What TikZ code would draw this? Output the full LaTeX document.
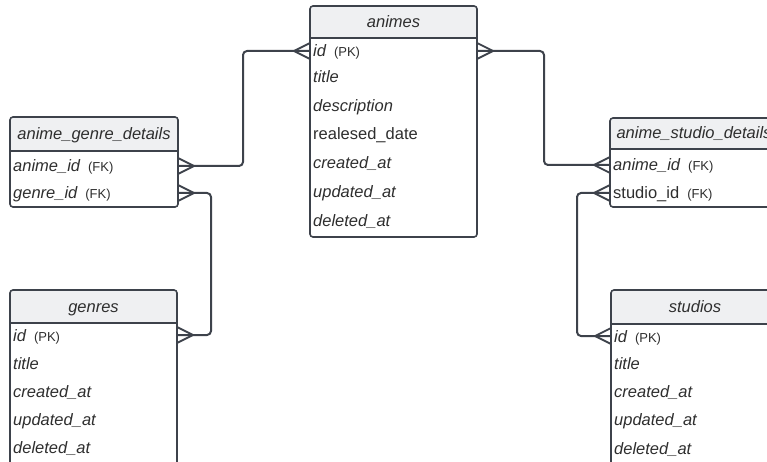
\documentclass[tikz,border=0pt]{standalone}
\usepackage{fontspec}
\setmainfont{Liberation Sans}
\definecolor{ln}{HTML}{3D424B}
\definecolor{hd}{HTML}{EFF0F2}
\definecolor{tx}{HTML}{2E2E2E}
\newcommand\keyt[1]{\hspace{8pt}{\fontsize{13}{13}\selectfont\upshape #1}}
\begin{document}
\begin{tikzpicture}[x=1pt,y=-1pt,
 tbl/.style={draw=ln, line width=1.6pt, rounded corners=3pt, anchor=north west,
   inner sep=0pt, outer sep=0pt,
   path picture={\fill[hd] (path picture bounding box.north west) rectangle ([yshift=-#1]path picture bounding box.north east);
     \draw[ln, line width=1.6pt] ([yshift=-#1]path picture bounding box.north west) -- ([yshift=-#1]path picture bounding box.north east);}},
 hdr/.style={font=\fontsize{16.5}{16.5}\selectfont\itshape, text=tx, inner sep=0pt, text height=11pt, text depth=0pt},
 fld/.style={font=\fontsize{16.5}{16.5}\selectfont\itshape, text=tx, anchor=west, inner sep=0pt, text height=12pt, text depth=0pt},
 fldup/.style={fld, font=\fontsize{16.5}{16.5}\selectfont\upshape},
 conn/.style={draw=ln, line width=2pt, rounded corners=4pt},
 crowline/.style={draw=ln, line width=1.8pt},
 crow/.pic={\draw[crowline] (0,-8) -- (16,0) -- (0,8) (0,0) -- (16,0);},
]
\useasboundingbox (0,0) rectangle (767,462);
\clip (0,0) rectangle (767,462);

% animes
\node[tbl=32pt, minimum width=167pt, minimum height=231pt] (animes) at (310,6) {};
\node[hdr] (animes-h) at (393.5,22) {animes};
\node[fld] (an-id) at (313,51) {id\keyt{(PK)}};
\node[fld] (an-title) at (313,77) {title};
\node[fld] (an-desc) at (313,106) {description};
\node[fldup] (an-rel) at (313,134) {realesed\_date};
\node[fld] (an-cr) at (313,163) {created\_at};
\node[fld] (an-up) at (313,192) {updated\_at};
\node[fld] (an-del) at (313,220) {deleted\_at};

% anime_genre_details
\node[tbl=34pt, minimum width=168pt, minimum height=90pt] (ag) at (10,117) {};
\node[hdr] (ag-h) at (94,134) {anime\_genre\_details};
\node[fld] (ag-anime) at (13,166) {anime\_id\keyt{(FK)}};
\node[fld] (ag-genre) at (13,193) {genre\_id\keyt{(FK)}};

% genres
\node[tbl=33pt, minimum width=167pt, minimum height=190pt] (genres) at (10,290) {};
\node[hdr] (ge-h) at (93.5,306.5) {genres};
\node[fld] (ge-id) at (13,335) {id\keyt{(PK)}};
\node[fld] (ge-title) at (13,363) {title};
\node[fld] (ge-cr) at (13,391) {created\_at};
\node[fld] (ge-up) at (13,419) {updated\_at};
\node[fld] (ge-del) at (13,447) {deleted\_at};

% anime_studio_details
\node[tbl=31pt, minimum width=168pt, minimum height=89pt] (as) at (610,118) {};
\node[hdr] (as-h) at (694,133.5) {anime\_studio\_details};
\node[fld] (as-anime) at (613,165) {anime\_id\keyt{(FK)}};
\node[fldup] (as-studio) at (613,193) {studio\_id\keyt{(FK)}};

% studios
\node[tbl=34pt, minimum width=168pt, minimum height=190pt] (studios) at (611,290) {};
\node[hdr] (st-h) at (695,307) {studios};
\node[fld] (st-id) at (614,336) {id\keyt{(PK)}};
\node[fld] (st-title) at (614,363) {title};
\node[fld] (st-cr) at (614,391) {created\_at};
\node[fld] (st-up) at (614,419) {updated\_at};
\node[fld] (st-del) at (614,448) {deleted\_at};

% connectors
\draw[conn] (animes.west |- an-id) -- (243,51) |- (ag.east |- ag-anime);
\draw[conn] (animes.east |- an-id) -- (544,51) |- (as.west |- as-anime);
\draw[conn] (ag.east |- ag-genre) -- (211,193) |- (genres.east |- ge-id);
\draw[conn] (as.west |- as-studio) -- (577,193) |- (studios.west |- st-id);

% crow's feet
\pic[rotate=180] at (animes.west |- an-id) {crow};
\pic at (ag.east |- ag-anime) {crow};
\pic at (animes.east |- an-id) {crow};
\pic[rotate=180] at (as.west |- as-anime) {crow};
\pic at (ag.east |- ag-genre) {crow};
\pic at (genres.east |- ge-id) {crow};
\pic[rotate=180] at (as.west |- as-studio) {crow};
\pic[rotate=180] at (studios.west |- st-id) {crow};
\end{tikzpicture}
\end{document}
